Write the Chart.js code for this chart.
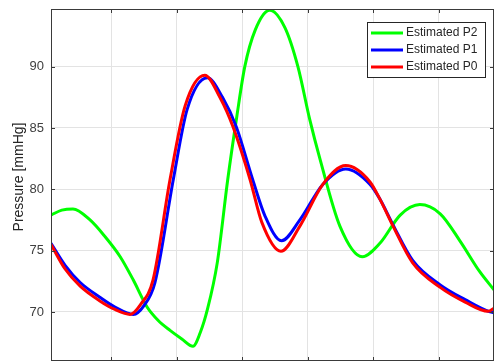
<!DOCTYPE html>
<html>
<head>
<meta charset="utf-8">
<script src="https://cdn.jsdelivr.net/npm/chart.js@4.4.1/dist/chart.umd.min.js"></script>
<style>
  html, body { margin: 0; padding: 0; background: #fff; }
</style>
</head>
<body>
<canvas id="chart" width="495" height="363"></canvas>
<script>
// ---------- Data ----------

const timeP2 = [0.085, 0.25, 0.42, 0.68, 0.90, 1.14, 1.34, 1.55, 1.72, 1.90, 2.08, 2.25, 2.36, 2.47, 2.62, 2.78, 2.92, 3.04, 3.20, 3.42, 3.65, 3.85, 4.03, 4.19, 4.49, 4.83, 5.10, 5.41, 5.71, 6.02, 6.32, 6.62, 6.84];
const pressureP2 = [77.9, 78.3, 78.4, 77.5, 76.2, 74.5, 72.6, 70.4, 69.3, 68.5, 67.8, 67.2, 68.3, 70.2, 74.0, 80.8, 86.0, 90.0, 93.0, 94.6, 93.2, 90.0, 85.7, 82.4, 77.0, 74.5, 75.6, 77.9, 78.75, 78.0, 75.8, 73.3, 71.8];

const timeP1 = [0.085, 0.30, 0.53, 0.83, 1.06, 1.34, 1.50, 1.67, 1.95, 2.16, 2.47, 2.70, 2.91, 3.16, 3.35, 3.60, 3.88, 4.23, 4.58, 4.95, 5.10, 5.30, 5.60, 6.02, 6.40, 6.78, 6.84];
const pressureP1 = [75.6, 73.8, 72.4, 71.2, 70.4, 69.8, 70.5, 72.4, 80.8, 86.5, 89.1, 87.5, 85.1, 80.8, 77.8, 75.8, 77.5, 80.4, 81.66, 80.4, 79.2, 77.1, 74.2, 72.2, 71.0, 70.0, 69.95];

const timeP0 = [0.085, 0.30, 0.53, 0.83, 1.06, 1.29, 1.45, 1.64, 1.90, 2.13, 2.43, 2.66, 2.86, 3.12, 3.30, 3.59, 3.88, 4.23, 4.58, 4.95, 5.10, 5.30, 5.60, 6.02, 6.40, 6.75, 6.84];
const pressureP0 = [75.5, 73.5, 72.1, 70.9, 70.2, 69.8, 70.6, 72.6, 80.8, 86.8, 89.3, 87.5, 85.1, 80.8, 77.3, 74.95, 77.0, 80.4, 81.93, 80.6, 79.2, 77.0, 74.0, 72.0, 70.8, 70.05, 70.3];

const xGridTicks = [1, 2, 3, 4, 5, 6];
const yTickValues = [70, 75, 80, 85, 90];
const yAxisTitle = 'Pressure [mmHg]';

// ---------- Helpers ----------

function toPoints(xs, ys) {
    return xs.map((x, i) => ({ x: x, y: ys[i] }));
}

function makeDataset(label, xs, ys, color, order) {
    return {
        label: label,
        data: toPoints(xs, ys),
        borderColor: color,
        backgroundColor: color,
        borderWidth: 3,
        pointRadius: 0,
        cubicInterpolationMode: 'monotone',
        order: order
    };
}

// ---------- Frame, inward ticks, title and legend (MATLAB look) ----------

const matlabFrame = {
    id: 'matlabFrame',
    afterDraw(chart) {
        const { ctx, chartArea: a, scales } = chart;
        const tickLen = 4;
        ctx.save();

        ctx.strokeStyle = '#3a3a3a';
        ctx.lineWidth = 1;
        ctx.beginPath();
        scales.x.ticks.forEach(t => {
            const px = Math.round(scales.x.getPixelForValue(t.value)) + 0.5;
            ctx.moveTo(px, a.top);
            ctx.lineTo(px, a.top + tickLen);
            ctx.moveTo(px, a.bottom);
            ctx.lineTo(px, a.bottom - tickLen);
        });
        scales.y.ticks.forEach(t => {
            const py = Math.round(scales.y.getPixelForValue(t.value)) + 0.5;
            ctx.moveTo(a.left, py);
            ctx.lineTo(a.left + tickLen, py);
            ctx.moveTo(a.right, py);
            ctx.lineTo(a.right - tickLen, py);
        });
        ctx.stroke();
        ctx.strokeRect(a.left + 0.5, a.top + 0.5, a.width - 1, a.height - 1);

        // y axis title
        ctx.fillStyle = '#262626';
        ctx.font = '14px "Liberation Sans", Arial, sans-serif';
        ctx.textAlign = 'center';
        ctx.textBaseline = 'middle';
        ctx.translate(19, 177);
        ctx.rotate(-Math.PI / 2);
        ctx.fillText(yAxisTitle, 0, 0);
        ctx.setTransform(1, 0, 0, 1, 0, 0);

        // legend box, top right inside the plot
        const boxRight = a.right - 9;
        const boxLeft = boxRight - 118;
        const boxTop = a.top + 13;
        const rowH = 17;
        const datasets = chart.data.datasets;
        ctx.fillStyle = '#ffffff';
        ctx.fillRect(boxLeft, boxTop, boxRight - boxLeft, rowH * datasets.length + 4);
        ctx.strokeStyle = '#262626';
        ctx.strokeRect(boxLeft + 0.5, boxTop + 0.5, boxRight - boxLeft, rowH * datasets.length + 4);

        ctx.font = '12px "Liberation Sans", Arial, sans-serif';
        ctx.textAlign = 'left';
        datasets.forEach((ds, i) => {
            const y = boxTop + 11 + i * rowH;
            ctx.strokeStyle = ds.borderColor;
            ctx.lineWidth = 3;
            ctx.beginPath();
            ctx.moveTo(boxLeft + 4, y);
            ctx.lineTo(boxLeft + 36, y);
            ctx.stroke();
            ctx.fillStyle = '#262626';
            ctx.fillText(ds.label, boxLeft + 39, y);
        });

        ctx.restore();
    }
};

// ---------- Chart ----------

const ctx = document.getElementById('chart').getContext('2d');

new Chart(ctx, {
    type: 'line',
    data: {
        datasets: [
            makeDataset('Estimated P2', timeP2, pressureP2, '#00ff00', 2),
            makeDataset('Estimated P1', timeP1, pressureP1, '#0000ff', 1),
            makeDataset('Estimated P0', timeP0, pressureP0, '#ff0000', 0)
        ]
    },
    plugins: [matlabFrame],
    options: {
        responsive: false,
        animation: false,
        layout: { padding: { left: 0, top: 9, right: 1, bottom: 2 } },
        plugins: {
            legend: { display: false },
            tooltip: { enabled: false }
        },
        scales: {
            x: {
                type: 'linear',
                min: 0.085,
                max: 6.84,
                afterBuildTicks: scale => {
                    scale.ticks = xGridTicks.map(v => ({ value: v }));
                },
                afterFit: scale => {
                    scale.height = 0;
                    scale.paddingLeft = 0;
                    scale.paddingRight = 0;
                },
                ticks: { display: false },
                grid: { color: '#e3e3e3', drawTicks: false },
                border: { display: false }
            },
            y: {
                min: 66,
                max: 94.7,
                afterBuildTicks: scale => {
                    scale.ticks = yTickValues.map(v => ({ value: v }));
                },
                afterFit: scale => {
                    scale.width = 51;
                    scale.paddingTop = 0;
                    scale.paddingBottom = 0;
                },
                ticks: {
                    color: '#404040',
                    padding: 7,
                    font: { family: '"Liberation Sans", Arial, sans-serif', size: 13 }
                },
                grid: { color: '#e3e3e3', drawTicks: false },
                border: { display: false }
            }
        }
    }
});
</script>
</body>
</html>
